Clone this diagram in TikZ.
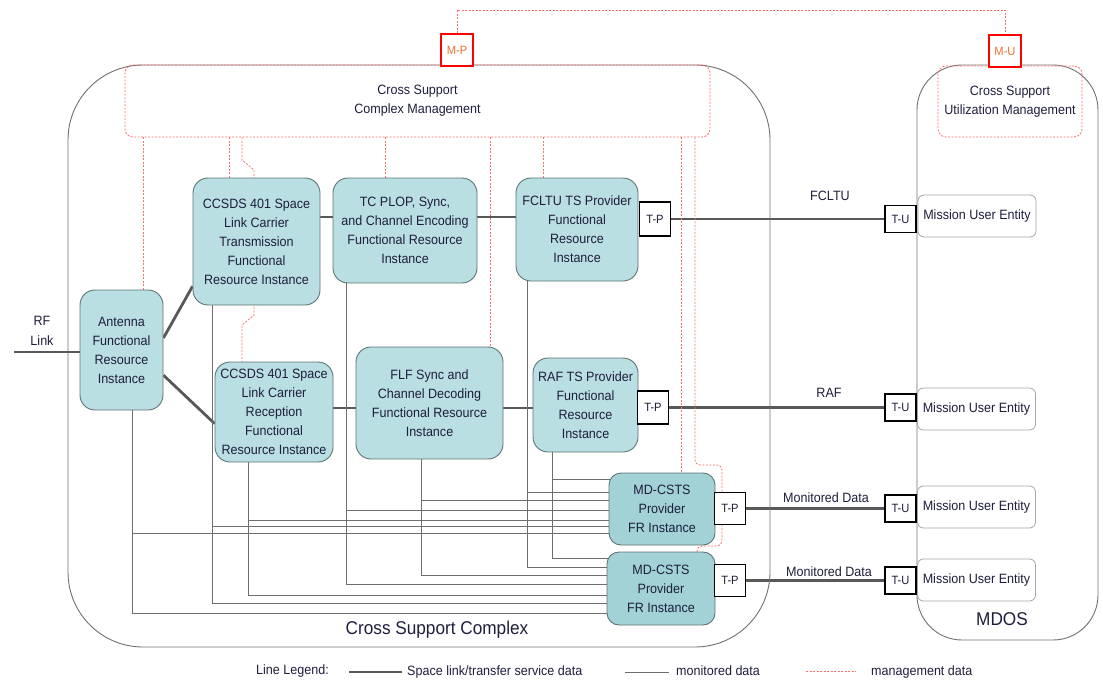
\documentclass[tikz,border=0pt]{standalone}
\usepackage{fontspec}
\setmainfont{Liberation Sans}
\newfontfamily\nf[FakeStretch=0.93]{Liberation Sans}
\newcommand\bxfont{\nf\fontsize{13.5}{19}\selectfont}
\newcommand\bigfont{\nf\fontsize{18.5}{20}\selectfont}
\newcommand\portfont{\nf\fontsize{12}{14}\selectfont}
\usetikzlibrary{calc}
\pgfdeclarelayer{bg}
\pgfsetlayers{bg,main}
\definecolor{frfill}{HTML}{B9DFE2}
\definecolor{mdfill}{HTML}{A2D2D6}
\definecolor{frline}{HTML}{5F7373}
\definecolor{txt}{HTML}{1E1E3C}
\definecolor{thickc}{HTML}{585858}
\definecolor{thinc}{HTML}{6E6E6E}
\definecolor{mgmt}{HTML}{FF6E6E}
\definecolor{outerc}{HTML}{707070}
\definecolor{mpcol}{HTML}{F07030}
\begin{document}
\begin{tikzpicture}[x=1pt,y=-1pt,
  container/.style={draw=outerc, line width=0.9pt, inner sep=0pt},
  mgtbox/.style={draw=mgmt, line width=0.8pt, dash pattern=on 2pt off 1.5pt, rounded corners=8pt, align=center, text=txt, font=\bxfont, inner sep=0pt},
  fr/.style={draw=frline, fill=frfill, rounded corners=15pt, line width=0.9pt, align=center, text=txt, font=\bxfont, inner sep=0pt},
  mdbox/.style={fr, fill=mdfill, rounded corners=12pt},
  mue/.style={draw=gray!70, fill=white, rounded corners=6pt, line width=0.8pt, text=txt, font=\bxfont, minimum width=118pt, minimum height=42pt, inner sep=0pt},
  tport/.style={draw=black, line width=1.6pt, fill=white, text=txt, font=\portfont, inner sep=0pt, minimum width=31pt},
  mport/.style={draw=red, line width=1.6pt, fill=white, text=mpcol, font=\portfont, inner sep=0pt, minimum width=32pt, minimum height=32pt},
  sdata/.style={draw=thickc, line width=2.8pt},
  mon/.style={draw=thinc, line width=0.8pt},
  mgt/.style={draw=mgmt, line width=0.8pt, dash pattern=on 2pt off 1.5pt},
  lbl/.style={text=txt, font=\bxfont, inner sep=0pt, align=center}
]
\useasboundingbox (0,0) rectangle (1103,680);

% containers
\node[container, minimum width=702pt, minimum height=582pt, rounded corners=75pt] (csc) at (419,356) {};
\node[container, minimum width=181pt, minimum height=575pt, rounded corners=45pt] (mdos) at (1007.5,352.5) {};
\node[mgtbox, minimum width=585pt, minimum height=72pt] (cscm) at (417.5,101) {Cross Support\\Complex Management};
\node[mgtbox, minimum width=144pt, minimum height=71pt] (csum) at (1010,101.5) {Cross Support\\Utilization Management};
\node[mport] (mp) at (457,50) {M-P};
\node[mport] (mu) at (1005,51) {M-U};

% functional resources
\node[fr, minimum width=83pt, minimum height=120pt] (ant) at (121.5,350) {Antenna\\Functional\\Resource\\Instance};
\node[fr, minimum width=127pt, minimum height=127pt] (tx) at (256.5,241.5) {CCSDS 401 Space\\Link Carrier\\Transmission\\Functional\\Resource Instance};
\node[fr, minimum width=144pt, minimum height=105pt] (tc) at (405,230.5) {TC PLOP, Sync,\\and Channel Encoding\\Functional Resource\\Instance};
\node[fr, minimum width=122pt, minimum height=103pt] (fcltu) at (577,229.5) {FCLTU TS Provider\\Functional\\Resource\\Instance};
\node[fr, minimum width=118pt, minimum height=100pt] (rx) at (274,412) {CCSDS 401 Space\\Link Carrier\\Reception\\Functional\\Resource Instance};
\node[fr, minimum width=147pt, minimum height=112pt] (flf) at (429.5,403) {FLF Sync and\\Channel Decoding\\Functional Resource\\Instance};
\node[fr, minimum width=105pt, minimum height=94pt] (raf) at (585.5,405) {RAF TS Provider\\Functional\\Resource\\Instance};
\node[mdbox, minimum width=106pt, minimum height=72pt] (md1) at (662,509) {MD-CSTS\\Provider\\FR Instance};
\node[mdbox, minimum width=108pt, minimum height=73pt] (md2) at (661,588.5) {MD-CSTS\\Provider\\FR Instance};

% ports
\node[tport, minimum height=34pt] (tp1) at (655,219) {T-P};
\node[tport, minimum height=33pt] (tp2) at (653,407.5) {T-P};
\node[tport, minimum height=32pt] (tp3) at (730,508.5) {T-P};
\node[tport, minimum height=32pt] (tp4) at (730,580.5) {T-P};
\node[tport, minimum height=27pt] (tu1) at (900.5,219) {T-U};
\node[tport, minimum height=27pt] (tu2) at (900.5,407.5) {T-U};
\node[tport, minimum height=27pt] (tu3) at (900.5,508.5) {T-U};
\node[tport, minimum height=27pt] (tu4) at (900.5,580.5) {T-U};

% mission user entities
\node[mue] (mue1) at (977,216) {Mission User Entity};
\node[mue] (mue2) at (976.5,409) {Mission User Entity};
\node[mue] (mue3) at (976.5,507) {Mission User Entity};
\node[mue] (mue4) at (976.5,580) {Mission User Entity};

% labels
\node[lbl] (lfcltu) at (830,196) {FCLTU};
\node[lbl] (lraf) at (829,393) {RAF};
\node[lbl] (lmd1) at (826,498) {Monitored Data};
\node[lbl] (lmd2) at (829,572) {Monitored Data};
\node[lbl, font=\nf\fontsize{13.5}{19.5}\selectfont] (lrf) at (42,331) {RF\\Link};
\node[lbl, font=\bigfont] (lcsc) at (437,630) {Cross Support Complex};
\node[lbl, font=\bigfont] (lmdos) at (1002,619) {MDOS};

% legend
\node[lbl, anchor=west] (lg0) at (256,671) {Line Legend:};
\coordinate (lga) at (349,672);
\coordinate (lgb) at (402,672);
\node[lbl, anchor=west] (lg1) at (407,672) {Space link/transfer service data};
\coordinate (lgc) at (625,672);
\coordinate (lgd) at (669,672);
\node[lbl, anchor=west] (lg2) at (676,671) {monitored data};
\coordinate (lge) at (806,671);
\coordinate (lgf) at (856,671);
\node[lbl, anchor=west] (lg3) at (871,672) {management data};
\draw[sdata] (lga) -- (lgb);
\draw[mon] (lgc) -- (lgd);
\draw[mgt] (lge) -- (lgf);

\begin{pgfonlayer}{bg}
  % space link / transfer service data
  \coordinate (rf) at (14,352);
  \draw[sdata] (rf) -- (ant.center |- rf);
  \draw[sdata] (ant.16) -- (tx.215);
  \draw[sdata] (ant.-31) -- (rx.191);
  \draw[sdata] (tx.center |- 0,217) -- (tc.center |- 0,217);
  \draw[sdata] (tc.center |- 0,217) -- (fcltu.center |- 0,217);
  \draw[sdata] (tp1.east) -- (tu1.west);
  \draw[sdata] (rx.center |- 0,408) -- (flf.center |- 0,408);
  \draw[sdata] (flf.center |- 0,408) -- (raf.center |- 0,408);
  \draw[sdata] (tp2.east) -- (tu2.west);
  \draw[sdata] (tp3.east) -- (tu3.west);
  \draw[sdata] (tp4.east) -- (tu4.west);

  % monitored data
  \draw[mon] (132,0 |- ant.south) -- (132,613) -- (md2.center |- 0,613);
  \draw[mon] (132,533) -- (md1.center |- 0,533);
  \draw[mon] (212,0 |- tx.south) -- (212,603) -- (md2.center |- 0,603);
  \draw[mon] (212,526) -- (md1.center |- 0,526);
  \draw[mon] (248,0 |- rx.south) -- (248,595) -- (md2.center |- 0,595);
  \draw[mon] (248,520) -- (md1.center |- 0,520);
  \draw[mon] (346,0 |- tc.south) -- (346,584) -- (md2.center |- 0,584);
  \draw[mon] (346,510) -- (md1.center |- 0,510);
  \draw[mon] (421,0 |- flf.south) -- (421,575) -- (md2.center |- 0,575);
  \draw[mon] (421,500) -- (md1.center |- 0,500);
  \draw[mon] (527,0 |- fcltu.south) -- (527,567) -- (md2.center |- 0,567);
  \draw[mon] (527,492) -- (md1.center |- 0,492);
  \draw[mon] (552,0 |- raf.south) -- (552,558) -- (md2.center |- 0,558);
  \draw[mon] (552,479) -- (md1.center |- 0,479);

  % management data
  \draw[mgt] (mp.north) -- (mp.north |- 0,10) -- (mu.north |- 0,10) -- (mu.north);
  \draw[mgt] (143,0 |- cscm.south) -- (143,0 |- ant.north);
  \draw[mgt] (229,0 |- cscm.south) -- (229,0 |- tx.north);
  \draw[mgt] (242,0 |- cscm.south) -- (242,160) -- (254,170) -- (254,315) -- (242,325) -- (242,0 |- rx.north);
  \draw[mgt] (385,0 |- cscm.south) -- (385,0 |- tc.north);
  \draw[mgt] (490,0 |- cscm.south) -- (490,0 |- flf.north);
  \draw[mgt] (543,0 |- cscm.south) -- (543,0 |- fcltu.north);
  \draw[mgt] (681,0 |- cscm.south) -- (681,0 |- md1.north);
  \draw[mgt, rounded corners=5pt] (695,0 |- cscm.south) -- (695,465) -- (722,465) -- (722,546) -- (697,546) -- (697,0 |- md2.north);
\end{pgfonlayer}
\end{tikzpicture}
\end{document}
